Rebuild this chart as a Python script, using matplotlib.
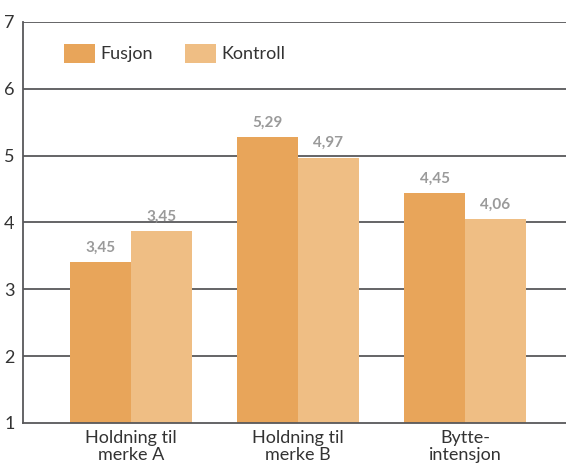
import numpy as np
import matplotlib
matplotlib.use('Agg')
import matplotlib.pyplot as plt

plt.rcParams['font.family'] = ['Lato', 'DejaVu Sans']

categories = ['Holdning til\nmerke A', 'Holdning til\nmerke B', 'Bytte-\nintensjon']
fusjon = [3.41, 5.28, 4.44]
kontroll = [3.87, 4.97, 4.05]
fusjon_labels = ['3,45', '5,29', '4,45']
kontroll_labels = ['3,45', '4,97', '4,06']

c_fus = '#e8a55a'
c_kon = '#efbe84'
grid_c = '#58585a'

fig = plt.figure(figsize=(5.66, 4.68), dpi=100)
ax = fig.add_axes([0.0406, 0.0962, 0.9594, 0.857])

x = np.arange(len(categories))
w = 0.365
ax.bar(x - w/2, np.array(fusjon) - 1, w, bottom=1, color=c_fus, label='Fusjon', zorder=3)
ax.bar(x + w/2, np.array(kontroll) - 1, w, bottom=1, color=c_kon, label='Kontroll', zorder=3)

for xi, v, t in zip(x - w/2, fusjon, fusjon_labels):
    ax.text(xi, v + 0.11, t, ha='center', va='bottom', fontsize=11, fontweight='bold', color='#9a9a9a')
for xi, v, t in zip(x + w/2, kontroll, kontroll_labels):
    ax.text(xi, v + 0.11, t, ha='center', va='bottom', fontsize=11, fontweight='bold', color='#9a9a9a')

ax.set_ylim(1, 7)
ax.set_xlim(-0.647, 2.605)
ax.set_yticks(range(1, 8))
for y in range(2, 8):
    ax.axhline(y, color=grid_c, lw=1.3, zorder=1)

for s in ['top', 'right']:
    ax.spines[s].set_visible(False)
ax.spines['left'].set_color(grid_c)
ax.spines['bottom'].set_color(grid_c)
ax.spines['left'].set_linewidth(1.3)
ax.spines['bottom'].set_linewidth(1.3)
ax.spines['bottom'].set_zorder(4)

ax.set_xticks(x)
ax.set_xticklabels(categories, fontsize=13, color='#333333', linespacing=1.05)
ax.tick_params(axis='x', length=0, pad=5)
ax.tick_params(axis='y', length=0, pad=6, labelsize=13, labelcolor='#333333')

ax.legend(loc='upper left', bbox_to_anchor=(0.0755, 0.945), ncol=2, frameon=False,
          fontsize=13, handlelength=1.72, handleheight=1.22, handletextpad=0.3,
          columnspacing=1.75, borderpad=0, borderaxespad=0, labelcolor='#333333')

fig.savefig('out.png', dpi=100)
